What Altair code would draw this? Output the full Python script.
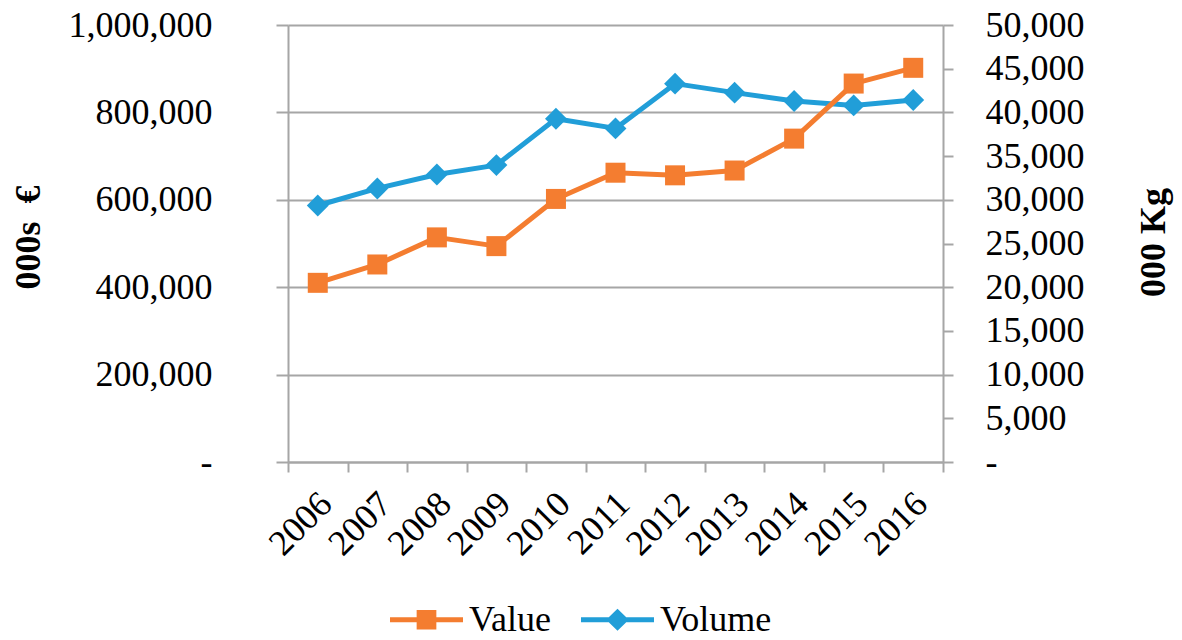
import altair as alt
import pandas as pd

years = ["2006", "2007", "2008", "2009", "2010", "2011", "2012", "2013", "2014", "2015", "2016"]
value_k_eur = [410000, 452000, 514000, 494000, 602000, 662000, 656000, 667000, 740000, 866000, 902000]
volume_k_kg = [29350, 31300, 32900, 33970, 39280, 38170, 43290, 42260, 41300, 40800, 41420]
series_names = ["Value", "Volume"]
left_ticks = [0, 200000, 400000, 600000, 800000, 1000000]
right_ticks = [0, 5000, 10000, 15000, 20000, 25000, 30000, 35000, 40000, 45000, 50000]

ORANGE = "#F47D30"
BLUE = "#219ED8"
GRID = "#A6A6A6"
FONT = "Liberation Serif"
NB = "\u00a0"

df_val = pd.DataFrame({"Year": years, "Amount": value_k_eur, "Series": "Value"})
df_vol = pd.DataFrame({"Year": years, "Amount": volume_k_kg, "Series": "Volume"})
df_all = pd.concat([df_val, df_vol], ignore_index=True)

x_enc = alt.X(
    "Year:N", sort=years, bandPosition=0.5,
    scale=alt.Scale(type="band", paddingInner=0, paddingOuter=0),
    axis=alt.Axis(
        title=None, labelAngle=315, labelAlign="right", labelBaseline="middle",
        tickBand="extent", tickSize=10, tickWidth=2, tickColor=GRID,
        domainColor=GRID, domainWidth=2, grid=False,
        labelPadding=26, labelOffset=8,
        labelFont=FONT, labelFontSize=36, labelColor="black",
    ),
)

y_val = alt.Y(
    "Amount:Q",
    scale=alt.Scale(domain=[0, 1000000], nice=False, zero=True),
    axis=alt.Axis(
        orient="left", values=left_ticks,
        labelExpr="datum.value == 0 ? '-" + NB + NB + "' : format(datum.value, ',')",
        labelFont=FONT, labelFontSize=36, labelColor="black", labelPadding=64,
        tickSize=12, tickWidth=2, tickColor=GRID, domainColor=GRID, domainWidth=2,
        grid=True, gridColor=GRID, gridWidth=2,
        title="000s" + NB + NB + "€", titleFont=FONT, titleFontSize=36, titleFontWeight="bold",
        titleColor="black", titleAngle=270, titleX=-249, titleY=212,
        titleAlign="center", titleBaseline="alphabetic",
    ),
)

y_vol = alt.Y(
    "Amount:Q",
    scale=alt.Scale(domain=[0, 50000], nice=False, zero=True),
    axis=alt.Axis(
        orient="right", values=right_ticks,
        labelExpr="datum.value == 0 ? '-' : format(datum.value, ',')",
        labelFont=FONT, labelFontSize=36, labelColor="black", labelPadding=32,
        labelAlign="left",
        tickSize=10, tickWidth=2, tickColor=GRID, domainColor=GRID, domainWidth=2,
        grid=False,
        title="000 Kg", titleFont=FONT, titleFontSize=36, titleFontWeight="bold",
        titleColor="black", titleAngle=270, titleX=221, titleY=217,
        titleAlign="center", titleBaseline="alphabetic",
    ),
)

PATH_VALUE = "M-1,-0.07L1,-0.07L1,0.07L-1,0.07Z M-0.27,-0.27L0.27,-0.27L0.27,0.27L-0.27,0.27Z"
PATH_VOLUME = "M-1,-0.07L1,-0.07L1,0.07L-1,0.07Z M-0.31,0L0,-0.3L0.31,0L0,0.3Z"

legend_props = dict(
    orient="none", legendX=102, legendY=558, direction="horizontal", title=None,
    labelFont=FONT, labelFontSize=36, labelColor="black", labelOffset=6,
    columnPadding=30, symbolSize=5329, symbolStrokeWidth=0, symbolOpacity=1,
)

vol_line = alt.Chart(df_vol).mark_line(color=BLUE, strokeWidth=5, strokeJoin="round").encode(x=x_enc, y=y_vol)
vol_pts = alt.Chart(df_vol).mark_point(shape="diamond", size=480, filled=True, opacity=1, color=BLUE).encode(x=x_enc, y=y_vol)

val_line = alt.Chart(df_val).mark_line(color=ORANGE, strokeWidth=5, strokeJoin="round").encode(x=x_enc, y=y_val)
val_pts = alt.Chart(df_val).mark_point(shape="square", size=400, filled=True, opacity=1, color=ORANGE).encode(x=x_enc, y=y_val)

legend_layer = alt.Chart(df_all).mark_point(opacity=0, filled=True, size=5329).encode(
    x=x_enc, y=y_val,
    color=alt.Color("Series:N", scale=alt.Scale(domain=series_names, range=[ORANGE, BLUE]),
                    legend=alt.Legend(**legend_props)),
    shape=alt.Shape("Series:N", scale=alt.Scale(domain=series_names, range=[PATH_VALUE, PATH_VOLUME]),
                    legend=alt.Legend(**legend_props)),
)

vol_group = alt.layer(vol_line, vol_pts)
val_group = alt.layer(val_line, val_pts, legend_layer)

chart = alt.layer(vol_group, val_group).resolve_scale(y="independent").properties(
    width=655, height=437,
    autosize=alt.AutoSizeParams(type="none"),
    padding={"left": 280, "top": 17, "right": 231, "bottom": 170},
).configure_view(stroke=None)

chart.save("out.html", embed_options={"renderer": "svg", "actions": False})
